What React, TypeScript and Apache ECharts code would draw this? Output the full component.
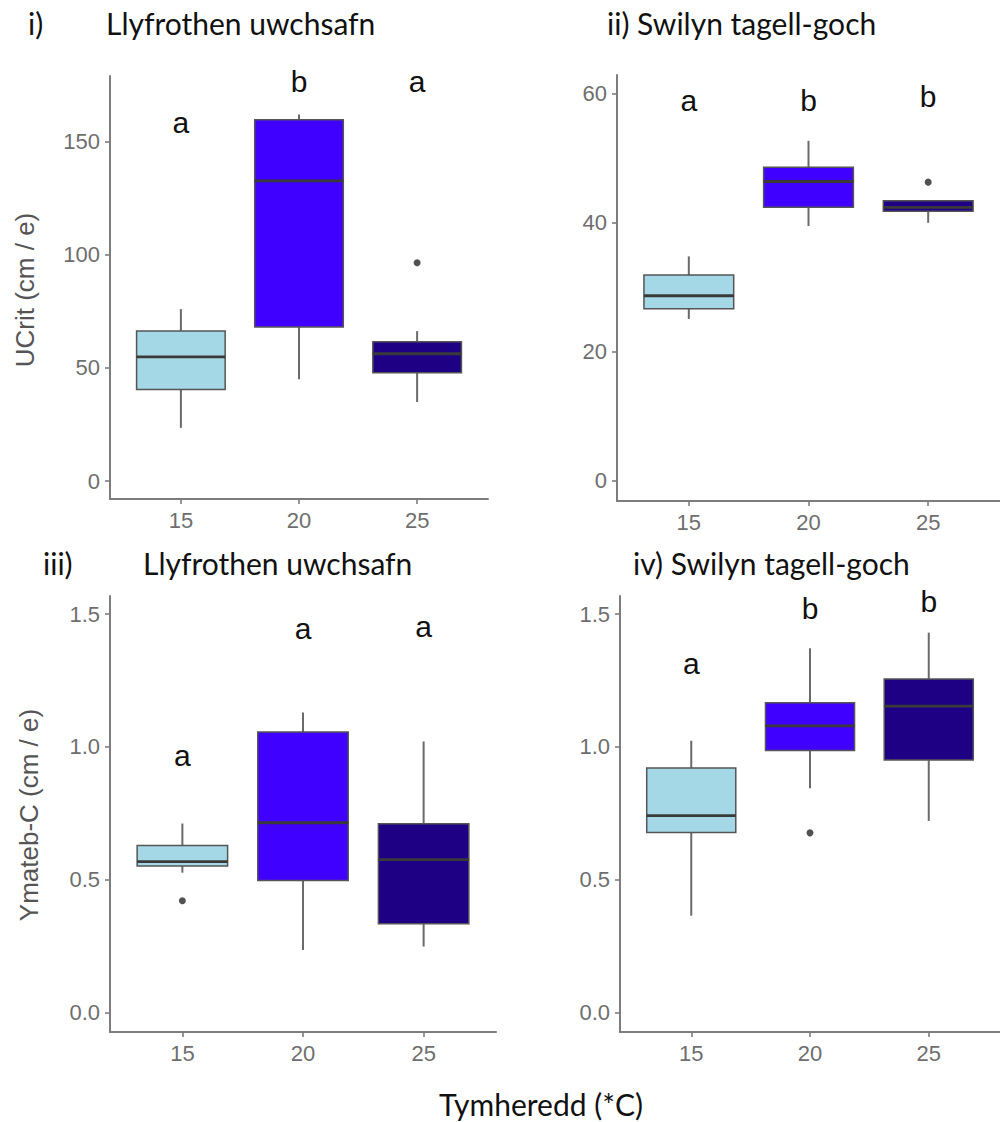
import React, { useEffect, useRef } from "react";
import * as echarts from "echarts";

// ---- data ----
const temps = ["15", "20", "25"];
const boxColors = ["#a4d8e6", "#3f00ff", "#1e0085"];

// [low whisker, Q1, median, Q3, high whisker]
const ucritLly = [
  [23.5, 40.4, 54.8, 66.2, 75.9],
  [44.9, 68.0, 132.5, 159.5, 161.8],
  [34.9, 47.8, 56.2, 61.5, 66.2],
];
const ucritLlyOut = [[3, 96.4]];
const ucritLlyLetters = ["a", "b", "a"];
const ucritLlyLetterY = [158.4, 176.5, 176.5];

const ucritSwi = [
  [25.1, 26.7, 28.7, 31.9, 34.8],
  [39.5, 42.4, 46.4, 48.6, 52.7],
  [40.0, 41.8, 42.4, 43.4, 43.4],
];
const ucritSwiOut = [[3, 46.3]];
const ucritSwiLetters = ["a", "b", "b"];
const ucritSwiLetterY = [58.9, 59.0, 59.6];

const ymatLly = [
  [0.526, 0.551, 0.568, 0.628, 0.711],
  [0.2345, 0.497, 0.714, 1.056, 1.129],
  [0.248, 0.334, 0.575, 0.71, 1.02],
];
const ymatLlyOut = [[1, 0.42]];
const ymatLlyLetters = ["a", "a", "a"];
const ymatLlyLetterY = [0.969, 1.445, 1.455];

const ymatSwi = [
  [0.364, 0.677, 0.741, 0.92, 1.023],
  [0.844, 0.986, 1.079, 1.166, 1.371],
  [0.721, 0.95, 1.153, 1.255, 1.43],
];
const ymatSwiOut = [[2, 0.676]];
const ymatSwiLetters = ["a", "b", "b"];
const ymatSwiLetterY = [1.312, 1.52, 1.546];

const ticksUcritLly = [0, 50, 100, 150];
const ticksUcritSwi = [0, 20, 40, 60];
const ticksYmat = [0, 0.5, 1.0, 1.5];

const AXIS_GREY = "#7d7d7d";
const LABEL_GREY = "#6e6e6e";
const TITLE_FONT = "Lato";
const SANS = "Liberation Sans";

type Panel = {
  grid: { left: number; top: number; width: number; height: number };
  yMin: number;
  yMax: number;
  ticks: number[];
  dec: number;
  boxes: number[][];
  outliers: number[][];
  letters: string[];
  letterY: number[];
};

const panels: Panel[] = [
  { grid: { left: 110, top: 76, width: 378, height: 423 }, yMin: -7.9, yMax: 178.8, ticks: ticksUcritLly, dec: 0, boxes: ucritLly, outliers: ucritLlyOut, letters: ucritLlyLetters, letterY: ucritLlyLetterY },
  { grid: { left: 617, top: 75, width: 394, height: 426 }, yMin: -3.1, yMax: 62.9, ticks: ticksUcritSwi, dec: 0, boxes: ucritSwi, outliers: ucritSwiOut, letters: ucritSwiLetters, letterY: ucritSwiLetterY },
  { grid: { left: 110, top: 596, width: 386, height: 436 }, yMin: -0.074, yMax: 1.568, ticks: ticksYmat, dec: 1, boxes: ymatLly, outliers: ymatLlyOut, letters: ymatLlyLetters, letterY: ymatLlyLetterY },
  { grid: { left: 620, top: 596, width: 388, height: 436 }, yMin: -0.074, yMax: 1.568, ticks: ticksYmat, dec: 1, boxes: ymatSwi, outliers: ymatSwiOut, letters: ymatSwiLetters, letterY: ymatSwiLetterY },
];

function buildOption() {
  const grid: any[] = [];
  const xAxis: any[] = [];
  const yAxis: any[] = [];
  const series: any[] = [];

  panels.forEach((p, i) => {
    grid.push({ ...p.grid, containLabel: false });
    xAxis.push({
      type: "value",
      gridIndex: i,
      min: 0.4,
      max: 3.6,
      axisLine: { show: true, onZero: false, lineStyle: { color: AXIS_GREY, width: 2 } },
      axisTick: { show: true, customValues: [1, 2, 3], length: 5, lineStyle: { color: AXIS_GREY, width: 1.6 } },
      axisLabel: {
        customValues: [1, 2, 3],
        formatter: (v: number) => temps[Math.round(v) - 1],
        color: LABEL_GREY,
        fontSize: 22,
        fontFamily: SANS,
        margin: 10,
      },
      splitLine: { show: false },
    });
    yAxis.push({
      type: "value",
      gridIndex: i,
      min: p.yMin,
      max: p.yMax,
      axisLine: { show: true, onZero: false, lineStyle: { color: AXIS_GREY, width: 2 } },
      axisTick: { show: true, customValues: p.ticks, length: 5, lineStyle: { color: AXIS_GREY, width: 1.6 } },
      axisLabel: {
        customValues: p.ticks,
        formatter: (v: number) => v.toFixed(p.dec),
        color: LABEL_GREY,
        fontSize: 22,
        fontFamily: SANS,
        margin: 10,
      },
      splitLine: { show: false },
    });

    series.push({
      type: "custom",
      xAxisIndex: i,
      yAxisIndex: i,
      clip: false,
      data: p.boxes.map((b, k) => [k + 1, ...b]),
      renderItem: (params: any, api: any) => {
        const x = api.value(0);
        const lo = api.coord([x, api.value(1)]);
        const q1 = api.coord([x, api.value(2)]);
        const md = api.coord([x, api.value(3)]);
        const q3 = api.coord([x, api.value(4)]);
        const hi = api.coord([x, api.value(5)]);
        const hw = api.size([0.75, 0])[0] / 2;
        const cx = lo[0];
        const col = boxColors[params.dataIndex];
        const wStyle = { stroke: "#6a6a6a", lineWidth: 2 };
        return {
          type: "group",
          children: [
            { type: "line", shape: { x1: cx, y1: q3[1], x2: cx, y2: hi[1] }, style: wStyle },
            { type: "line", shape: { x1: cx, y1: q1[1], x2: cx, y2: lo[1] }, style: wStyle },
            {
              type: "rect",
              shape: { x: cx - hw, y: q3[1], width: hw * 2, height: q1[1] - q3[1] },
              style: { fill: col, stroke: "#555", lineWidth: 1.5 },
            },
            { type: "line", shape: { x1: cx - hw, y1: md[1], x2: cx + hw, y2: md[1] }, style: { stroke: "#3a3a3a", lineWidth: 2.8 } },
          ],
        };
      },
    });

    series.push({
      type: "scatter",
      xAxisIndex: i,
      yAxisIndex: i,
      symbol: "circle",
      symbolSize: 7,
      itemStyle: { color: "#262626" },
      data: p.outliers,
    });

    series.push({
      type: "custom",
      xAxisIndex: i,
      yAxisIndex: i,
      clip: false,
      data: p.letterY.map((y, k) => [k + 1, y]),
      renderItem: (params: any, api: any) => {
        const pt = api.coord([api.value(0), api.value(1)]);
        return {
          type: "text",
          x: pt[0],
          y: pt[1],
          style: {
            text: p.letters[params.dataIndex],
            fill: "#111",
            fontSize: 30,
            fontFamily: SANS,
            align: "center",
            verticalAlign: "middle",
          },
        };
      },
    });
  });

  const titleStyle = (text: string) => ({ text, fill: "#111", fontSize: 30, fontFamily: TITLE_FONT, verticalAlign: "middle" });

  const graphic: any[] = [
    { type: "text", left: 28, top: 8, style: { ...titleStyle("i)") } },
    { type: "text", left: 106, top: 8, style: { ...titleStyle("Llyfrothen uwchsafn") } },
    { type: "text", left: 607, top: 8, style: { ...titleStyle("ii) Swilyn tagell-goch") } },
    { type: "text", left: 43, top: 548, style: { ...titleStyle("iii)") } },
    { type: "text", left: 143, top: 548, style: { ...titleStyle("Llyfrothen uwchsafn") } },
    { type: "text", left: 633, top: 548, style: { ...titleStyle("iv) Swilyn tagell-goch") } },
    {
      type: "text",
      x: 541,
      y: 1104,
      style: { text: "Tymheredd (*C)", fill: "#111", fontSize: 30, fontFamily: TITLE_FONT, align: "center", verticalAlign: "middle" },
    },
    {
      type: "text",
      x: 25,
      y: 290,
      rotation: Math.PI / 2,
      style: { text: "UCrit (cm / e)", fill: "#555", fontSize: 26, fontFamily: SANS, align: "center", verticalAlign: "middle" },
    },
    {
      type: "text",
      x: 29,
      y: 815,
      rotation: Math.PI / 2,
      style: { text: "Ymateb-C (cm / e)", fill: "#555", fontSize: 26, fontFamily: SANS, align: "center", verticalAlign: "middle" },
    },
  ];

  return {
    animation: false,
    backgroundColor: "#ffffff",
    grid,
    xAxis,
    yAxis,
    series,
    graphic,
  };
}

export default function App() {
  const ref = useRef<HTMLDivElement>(null);
  useEffect(() => {
    if (!ref.current) return;
    const chart = echarts.init(ref.current, undefined, { renderer: "svg" });
    chart.setOption(buildOption() as any);
    return () => chart.dispose();
  }, []);
  return (
    <div
      ref={ref}
      style={{ position: "absolute", left: 0, top: 0, width: 1000, height: 1122, background: "#fff" }}
    />
  );
}
